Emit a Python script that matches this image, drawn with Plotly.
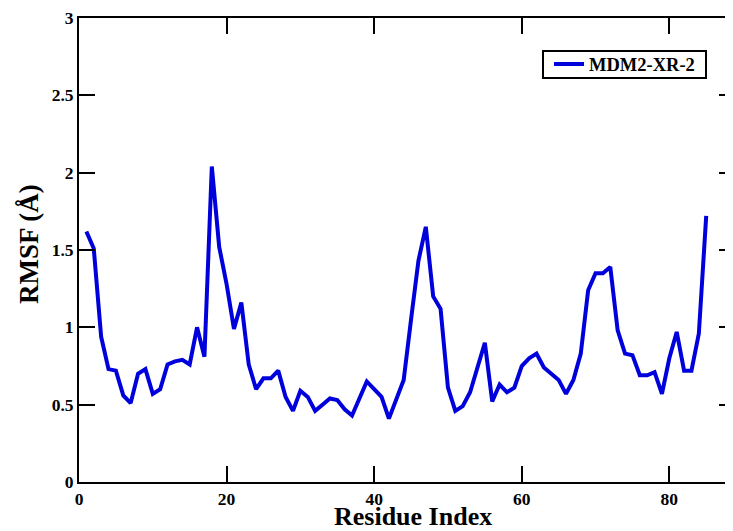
import plotly.graph_objects as go

residues = list(range(1, 86))
rmsf = [
    1.62, 1.51, 0.94, 0.73, 0.72, 0.56, 0.51, 0.70, 0.73, 0.57,
    0.60, 0.76, 0.78, 0.79, 0.76, 1.00, 0.81, 2.04, 1.52, 1.28,
    0.99, 1.16, 0.76, 0.60, 0.67, 0.67, 0.72, 0.55, 0.46, 0.59,
    0.55, 0.46, 0.50, 0.54, 0.53, 0.47, 0.43, 0.54, 0.65, 0.60,
    0.55, 0.41, 0.53, 0.66, 1.05, 1.43, 1.65, 1.20, 1.12, 0.61,
    0.46, 0.49, 0.58, 0.74, 0.90, 0.52, 0.63, 0.58, 0.61, 0.75,
    0.80, 0.83, 0.74, 0.70, 0.66, 0.57, 0.66, 0.83, 1.24, 1.35,
    1.35, 1.39, 0.98, 0.83, 0.82, 0.69, 0.69, 0.71, 0.57, 0.80,
    0.97, 0.72, 0.72, 0.96, 1.72,
]
series_name = "MDM2-XR-2"
x_ticks = [0, 20, 40, 60, 80]
y_ticks = [0, 0.5, 1, 1.5, 2, 2.5, 3]
x_title = "Residue Index"
y_title = "RMSF (Å)"

FONT = "Liberation Serif, Times New Roman, serif"

# The page body has an 8px margin, so the figure is drawn 8px right/down.
OFF = 8
W, H = 733 - OFF, 531 - OFF
L, T = 79 - OFF, 18 - OFF
BOTTOM = 482 - OFF
B = H - BOTTOM
PW, PH = W - L, BOTTOM - T


def px(xp):  # page pixel -> paper x
    return (xp - OFF - L) / PW


def py(yp):  # page pixel -> paper y
    return (BOTTOM - (yp - OFF)) / PH


fig = go.Figure()
fig.add_trace(go.Scatter(
    x=residues, y=rmsf, mode="lines", name=series_name,
    line=dict(color="#0000dc", width=4),
))
fig.add_trace(go.Scatter(
    x=[None], y=[None], yaxis="y2", showlegend=False, hoverinfo="skip",
))

fig.update_layout(
    width=W, height=H,
    margin=dict(l=L, r=0, t=T, b=B, autoexpand=False),
    paper_bgcolor="white", plot_bgcolor="white",
    font=dict(family=FONT, color="black"),
    showlegend=True,
    legend=dict(
        x=px(549), y=py(64.5), xanchor="left", yanchor="middle",
        bgcolor="rgba(0,0,0,0)", borderwidth=0, itemwidth=30,
        font=dict(family=FONT, size=18.5, weight="bold", color="black"),
    ),
    xaxis=dict(
        range=[0, 88.63], tickvals=x_ticks, ticks="inside", ticklen=16,
        tickwidth=2, tickcolor="black", showline=True, linewidth=2,
        linecolor="black", mirror="ticks", showgrid=False, zeroline=False,
        automargin=False,
        tickfont=dict(family=FONT, size=17.5, weight="bold"),
    ),
    yaxis=dict(
        range=[0, 3], tickvals=y_ticks, ticks="inside", ticklen=16,
        tickwidth=2, tickcolor="black", showline=True, linewidth=2,
        linecolor="black", showgrid=False, zeroline=False,
        automargin=False,
        tickfont=dict(family=FONT, size=17.5, weight="bold"),
    ),
    yaxis2=dict(
        overlaying="y", side="right", range=[0, 3], tickvals=y_ticks,
        ticks="inside", ticklen=14, tickwidth=2, tickcolor="black",
        showticklabels=False, showline=False, showgrid=False, zeroline=False,
        automargin=False,
    ),
    shapes=[dict(
        type="rect", xref="paper", yref="paper",
        x0=px(543), x1=px(706), y0=py(78), y1=py(51),
        line=dict(color="black", width=2), layer="above",
    )],
    annotations=[
        dict(text=x_title, xref="paper", yref="paper",
             x=px(412.5), y=py(516), xanchor="center", yanchor="middle",
             showarrow=False,
             font=dict(family=FONT, size=26, weight="bold", color="black")),
        dict(text=y_title, xref="paper", yref="paper", textangle=-90,
             x=px(29), y=py(244), xanchor="center", yanchor="middle",
             showarrow=False,
             font=dict(family=FONT, size=27, weight="bold", color="black")),
    ],
)

fig.write_html("out.html")
